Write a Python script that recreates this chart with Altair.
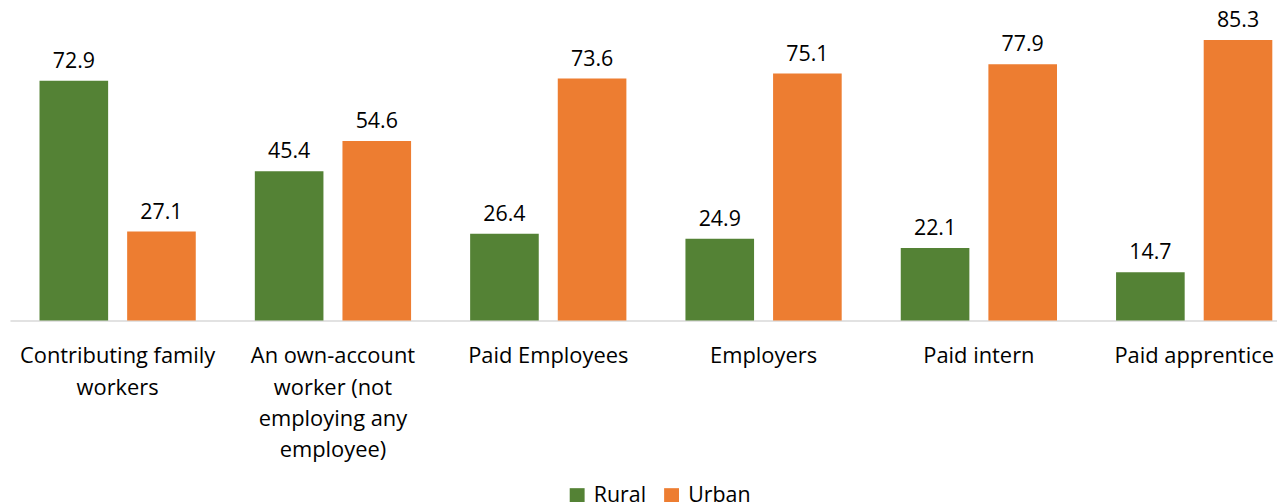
import altair as alt
import pandas as pd

categories = ["Contributing family|workers",
              "An own-account|worker (not|employing any|employee)",
              "Paid Employees", "Employers", "Paid intern", "Paid apprentice"]
rural = [72.9, 45.4, 26.4, 24.9, 22.1, 14.7]
urban = [27.1, 54.6, 73.6, 75.1, 77.9, 85.3]
series = ["Rural", "Urban"]
colors = ["#548235", "#ED7D31"]

rows = []
for c, r, u in zip(categories, rural, urban):
    rows.append({"cat": c, "series": "Rural", "value": r})
    rows.append({"cat": c, "series": "Urban", "value": u})
df = pd.DataFrame(rows)

FONT = "Open Sans"

x = alt.X("cat:N", sort=categories, title=None,
          scale=alt.Scale(range=[0, 1300], paddingInner=0, paddingOuter=0),
          axis=alt.Axis(labelExpr="split(datum.label, '|')", labelAngle=0,
                        labelFontSize=22, labelFont=FONT, labelColor="#000000",
                        labelLineHeight=31.5, labelPadding=25.5, labelLimit=400,
                        ticks=False, tickSize=0, domainColor="#d9d9d9", domainWidth=1.5,
                        labelBaseline="top"))
xo = alt.XOffset("series:N", sort=series,
                 scale=alt.Scale(paddingInner=0.217, paddingOuter=0.337))
y = alt.Y("value:Q", scale=alt.Scale(domain=[0, 90]), axis=None)
color = alt.Color("series:N", sort=series,
                  scale=alt.Scale(domain=series, range=colors),
                  legend=alt.Legend(title=None, orient="none", direction="horizontal",
                                    legendX=560, legendY=463, symbolType="square",
                                    symbolSize=225, symbolStrokeWidth=0, labelFontSize=21.5,
                                    labelFont=FONT, labelColor="#000000", columnPadding=14,
                                    labelOffset=6, symbolOpacity=1))

base = alt.Chart(df).encode(x=x, xOffset=xo, y=y)
bars = base.mark_bar(opacity=1).encode(color=color)
text = base.mark_text(dy=-13, baseline="alphabetic", fontSize=21.5, font=FONT,
                      color="#000000").encode(text=alt.Text("value:Q", format=".1f"))

chart = alt.layer(bars, text).properties(
    width=1275, height=298,
    autosize=alt.AutoSizeParams(type="none"),
    padding={"left": 2, "top": 15, "right": 0, "bottom": 186},
).configure_view(stroke=None)

chart.save("out.html", embed_options={"renderer": "svg", "actions": False})
